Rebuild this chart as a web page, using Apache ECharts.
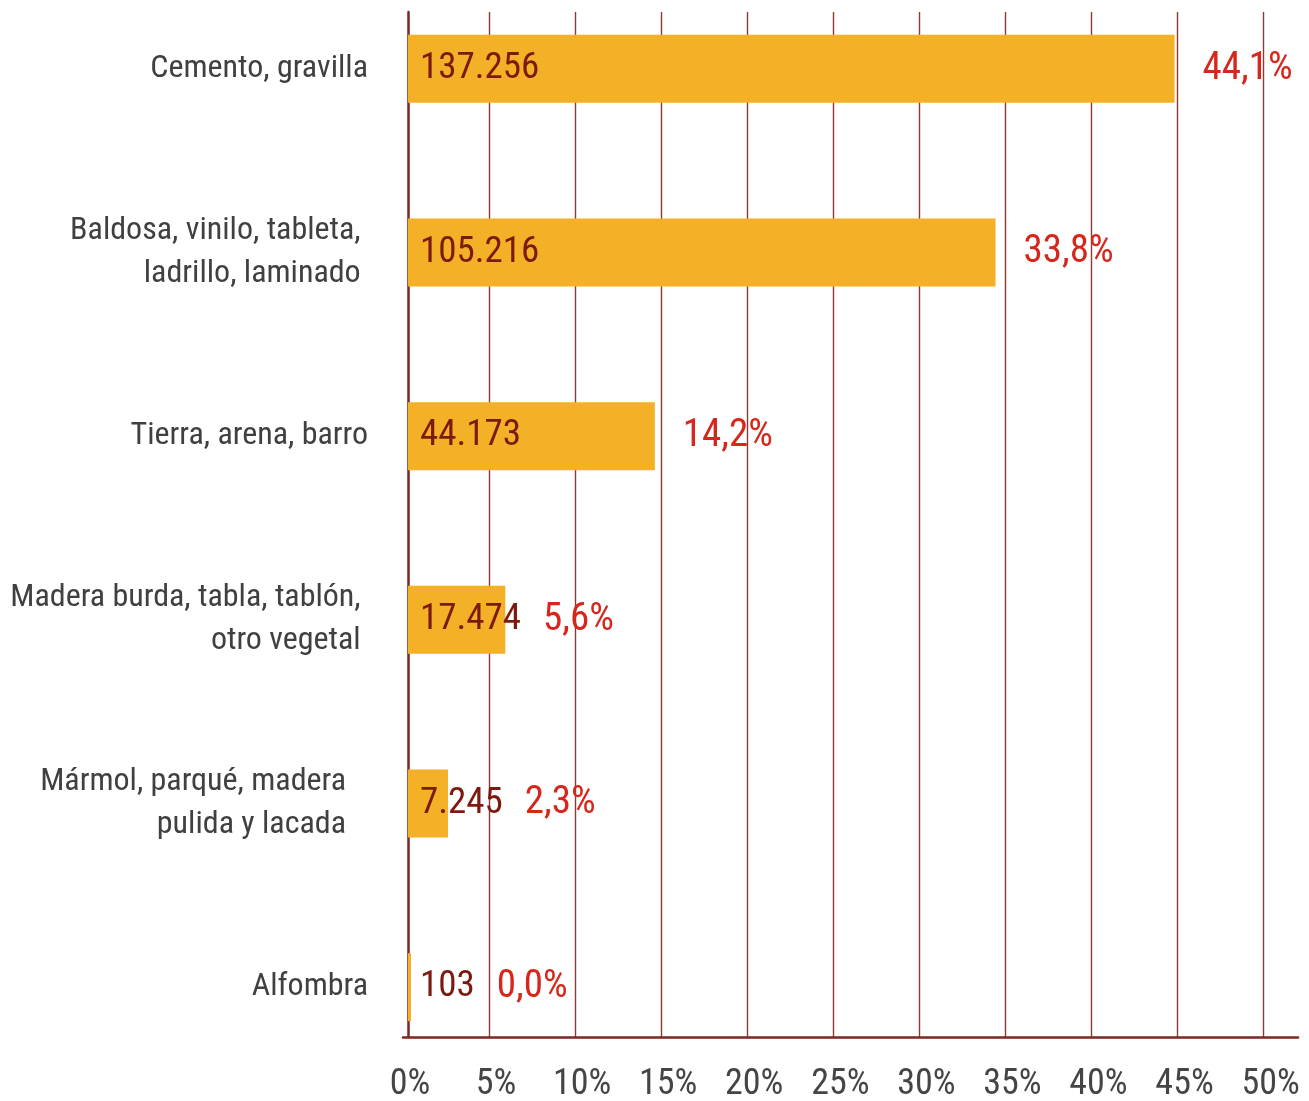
<!DOCTYPE html>
<html>
<head>
<meta charset="utf-8">
<script src="https://cdn.jsdelivr.net/npm/echarts@6/dist/echarts.min.js"></script>
<style>
html, body { margin: 0; padding: 0; background: #fff; }
#chart { width: 1309px; height: 1101px; }
</style>
</head>
<body>
<div id="chart"></div>
<script>
// datos
var categories = [
    'Cemento, gravilla',
    'Baldosa, vinilo, tableta, \nladrillo, laminado ',
    'Tierra, arena, barro',
    'Madera burda, tabla, tablón, \notro vegetal ',
    'Mármol, parqué, madera   \npulida y lacada   ',
    'Alfombra'
]
var counts = [137256, 105216, 44173, 17474, 7245, 103]
var percents = [44.1, 33.8, 14.2, 5.6, 2.3, 0.0]
var tickStep = 5

var FONT = '"Roboto Condensed", "DejaVu Sans Condensed", sans-serif'
var VALUE_SIZE = 37
var PCT_SIZE = 39

function fmtCount(n) {
    return String(n).replace(/\B(?=(\d{3})+(?!\d))/g, '.')
}
function fmtPct(p) {
    return p.toFixed(1).replace('.', ',') + '%'
}

var myChart = echarts.init(document.getElementById('chart'))

function buildOption(pctDist) {
    return {
        animation: false,
        grid: [
            { left: 408, right: 11, top: -23, bottom: 22, outerBoundsMode: 'none', containLabel: false },   // barras
            { left: 403, right: 11, top: 12, bottom: 64, outerBoundsMode: 'none', containLabel: false }     // ejes visibles
        ],
        xAxis: [
            { gridIndex: 0, type: 'value', min: 0, max: 51.2, show: false },
            {
                gridIndex: 1, type: 'value', min: 0, max: 52, interval: tickStep,
                axisLine: { show: true, onZero: false, lineStyle: { color: '#7e2620', width: 2.5 } },
                axisTick: { show: false },
                splitLine: { show: true, showMinLine: false, showMaxLine: false, lineStyle: { color: '#8f3a34', width: 1.4 } },
                axisLabel: {
                    margin: 30, fontSize: 36, color: '#454545', fontFamily: FONT,
                    showMaxLabel: false, padding: [0, 0, 0, 14],
                    formatter: function (v) { return v % tickStep === 0 ? v + '%' : '' }
                }
            }
        ],
        yAxis: [
            {
                gridIndex: 0, type: 'category', data: categories, inverse: true,
                axisLine: { show: false }, axisTick: { show: false },
                axisLabel: { margin: 40, fontSize: 32, lineHeight: 43, color: '#404040', fontFamily: FONT }
            },
            {
                gridIndex: 1, type: 'value', min: 0, max: 1, offset: -5,
                axisLine: { show: true, onZero: false, lineStyle: { color: '#7e2620', width: 2.5 } },
                axisTick: { show: false }, axisLabel: { show: false }, splitLine: { show: false }
            }
        ],
        series: [
            {
                type: 'bar', xAxisIndex: 0, yAxisIndex: 0,
                data: percents, barWidth: 68, barMinHeight: 3, silent: true,
                itemStyle: { color: '#f4b026' },
                label: {
                    show: true, position: 'insideLeft', distance: 12,
                    fontSize: VALUE_SIZE, color: '#7b1a0f', fontFamily: FONT,
                    formatter: function (p) { return fmtCount(counts[p.dataIndex]) }
                }
            },
            {
                type: 'bar', xAxisIndex: 0, yAxisIndex: 0, barWidth: 68, barGap: '-100%',
                barMinHeight: 3, silent: true,
                data: percents.map(function (p, i) {
                    return { value: p, label: { distance: pctDist ? pctDist[i] : 28 } }
                }),
                itemStyle: { color: 'rgba(0,0,0,0)' },
                label: {
                    show: true, position: 'right',
                    fontSize: PCT_SIZE, color: '#d7261b', fontFamily: FONT,
                    formatter: function (p) { return fmtPct(percents[p.dataIndex]) }
                }
            }
        ]
    }
}

myChart.setOption(buildOption(null))

// separar la etiqueta de % de la etiqueta de valor en barras cortas
var ctx = document.createElement('canvas').getContext('2d')
ctx.font = VALUE_SIZE + 'px ' + FONT
var x0 = myChart.convertToPixel({ gridIndex: 0 }, [0, 0])[0]
var dist = percents.map(function (p, i) {
    var barEnd = Math.max(myChart.convertToPixel({ gridIndex: 0 }, [p, 0])[0], x0 + 3)
    var valueEnd = x0 + 12 + ctx.measureText(fmtCount(counts[i])).width
    return Math.max(barEnd + 28, valueEnd + 22) - barEnd
})
myChart.setOption(buildOption(dist))
</script>
</body>
</html>
